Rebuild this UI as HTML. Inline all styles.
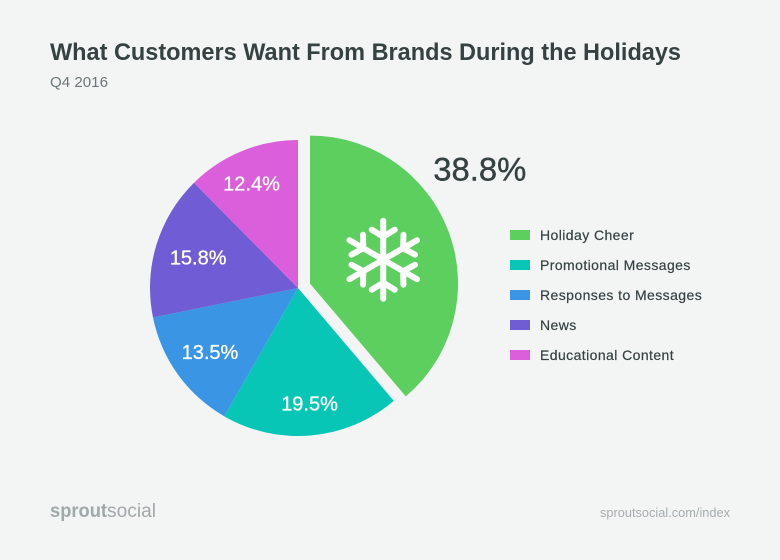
<!DOCTYPE html>
<html lang="en">
<head>
<meta charset="utf-8">
<title>What Customers Want From Brands During the Holidays</title>
<style>
  html, body { margin: 0; padding: 0; background: #f3f5f5; }
  svg { display: block; font-family: "Liberation Sans", sans-serif; }
</style>
</head>
<body>
<svg id="chart" width="780" height="560" viewBox="0 0 780 560" xmlns="http://www.w3.org/2000/svg">
  <rect width="780" height="560" fill="#f3f5f5"/>
  <text x="50" y="60" font-size="24" font-weight="700" fill="#364141" textLength="631" lengthAdjust="spacingAndGlyphs">What Customers Want From Brands During the Holidays</text>
  <text x="50" y="87" font-size="15" fill="#6d7777" textLength="58" lengthAdjust="spacingAndGlyphs">Q4 2016</text>
  <g id="slices"></g>
  <g id="labels"></g>
  <g id="legend"></g>
  <g>
    <text x="50" y="517" font-size="19" fill="#a0a8a8"><tspan font-weight="700" textLength="57" lengthAdjust="spacingAndGlyphs">sprout</tspan><tspan x="107" textLength="49" lengthAdjust="spacingAndGlyphs">social</tspan></text>
  </g>
  <text x="600" y="517" font-size="13" fill="#a6adad" textLength="130" lengthAdjust="spacingAndGlyphs">sproutsocial.com/index</text>
</svg>
<script>
const categories = ['Holiday Cheer', 'Promotional Messages', 'Responses to Messages', 'News', 'Educational Content'];
const shareValues = [38.8, 19.5, 13.5, 15.8, 12.4];
const sliceColors = ['#5ccf5e', '#08c6b5', '#3a96e4', '#705cd4', '#db5fdb'];

const SVG_NS = 'http://www.w3.org/2000/svg';
const centerX = 298;
const centerY = 288;
const radius = 148;
const explodeDistance = 12.8;
const total = shareValues.reduce(function (a, b) { return a + b; }, 0);

function angleOf(share) { return share / total * 2 * Math.PI; }
function polarX(cx, r, a) { return cx + r * Math.sin(a); }
function polarY(cy, r, a) { return cy - r * Math.cos(a); }

function make(tag, attrs) {
  const el = document.createElementNS(SVG_NS, tag);
  Object.keys(attrs).forEach(function (k) { el.setAttribute(k, attrs[k]); });
  return el;
}

const slicesGroup = document.getElementById('slices');
const labelsGroup = document.getElementById('labels');
const legendGroup = document.getElementById('legend');

function drawSnowflake(x, y) {
  const flake = make('g', {
    transform: 'translate(' + x + ' ' + y + ')',
    stroke: '#ffffff',
    'stroke-width': 6,
    'stroke-linecap': 'round',
    fill: 'none'
  });
  
  
  for (let k = 0; k < 6; k++) {
    const arm = make('path', {
      d: 'M0 0V-39M0 -23L-11.5 -30M0 -23L11.5 -30',
      transform: 'rotate(' + (k * 60) + ')'
    });
    
    
    flake.appendChild(arm);
  }
  labelsGroup.appendChild(flake);
}

let cursor = 0;
shareValues.forEach(function (value, i) {
  const sweep = angleOf(value);
  const start = cursor;
  const end = cursor + sweep;
  const mid = start + sweep / 2;
  cursor = end;

  const isFeatured = i === 0;
  const cx = isFeatured ? polarX(centerX, explodeDistance, mid) : centerX;
  const cy = isFeatured ? polarY(centerY, explodeDistance, mid) : centerY;
  const largeArc = sweep > Math.PI ? 1 : 0;
  const d = 'M' + cx + ' ' + cy +
    'L' + polarX(cx, radius, start) + ' ' + polarY(cy, radius, start) +
    'A' + radius + ' ' + radius + ' 0 ' + largeArc + ' 1 ' +
    polarX(cx, radius, end) + ' ' + polarY(cy, radius, end) + 'Z';

  const slice = make('path', { d: d, fill: sliceColors[i] });
  
  
  slicesGroup.appendChild(slice);

  const text = value.toFixed(1) + '%';
  if (isFeatured) {
    const flakeX = polarX(cx, 78, mid);
    const flakeY = polarY(cy, 78, mid) + 3;
    drawSnowflake(flakeX, flakeY);
    const big = make('text', {
      x: flakeX + 50,
      y: flakeY - 79,
      'font-size': 32,
      fill: '#364141',
      stroke: '#364141',
      'stroke-width': 0.4,
      textLength: 93,
      lengthAdjust: 'spacingAndGlyphs'
    });
    big.textContent = text;
    
    
    labelsGroup.appendChild(big);
  } else {
    const labelRadius = 101 + 15 * Math.abs(Math.cos(mid));
    const labelAngle = mid - 0.05 * Math.pow(Math.max(0, Math.cos(mid)), 4);
    const label = make('text', {
      x: polarX(cx, labelRadius, labelAngle) + 1,
      y: polarY(cy, labelRadius, labelAngle) + 7,
      'font-size': 20,
      'text-anchor': 'middle',
      fill: '#ffffff',
      stroke: '#ffffff',
      'stroke-width': 0.3
    });
    label.textContent = text;
    
    
    labelsGroup.appendChild(label);
  }
});

categories.forEach(function (name, i) {
  const y = 230 + i * 30;
  const entry = make('g', {});
  
  

  const swatch = make('rect', { x: 510, y: y, width: 20, height: 10, fill: sliceColors[i] });
  
  
  entry.appendChild(swatch);

  const label = make('text', {
    x: 540,
    y: y + 10,
    'font-size': 14,
    'letter-spacing': 0.42,
    fill: '#364141',
    stroke: '#364141',
    'stroke-width': 0.2
  });
  label.textContent = name;
  
  
  entry.appendChild(label);

  legendGroup.appendChild(entry);
});
</script>
</body>
</html>
